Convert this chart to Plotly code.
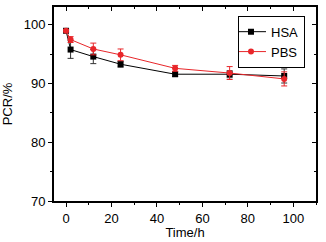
import plotly.graph_objects as go

time_h = [0, 2, 12, 24, 48, 72, 96]
hsa = [99.0, 95.8, 94.6, 93.3, 91.6, 91.6, 91.3]
hsa_err = [0.2, 1.5, 1.2, 0.5, 0.4, 0.6, 1.2]
pbs = [99.0, 97.5, 95.9, 94.9, 92.6, 91.8, 90.8]
pbs_err = [0.2, 0.5, 1.0, 1.0, 0.5, 1.1, 1.2]

x_ticks = [0, 20, 40, 60, 80, 100]
y_ticks = [70, 80, 90, 100]

font = dict(family="Liberation Sans, Arial", size=13, color="black")

fig = go.Figure()
fig.add_trace(go.Scatter(
    x=time_h, y=hsa, name="HSA", mode="lines+markers",
    line=dict(color="black", width=1),
    marker=dict(symbol="square", size=6, color="black"),
    error_y=dict(type="data", array=hsa_err, color="#333333", thickness=1, width=3),
))
fig.add_trace(go.Scatter(
    x=time_h, y=pbs, name="PBS", mode="lines+markers",
    line=dict(color="#e8262a", width=1),
    marker=dict(symbol="circle", size=6, color="#e8262a"),
    error_y=dict(type="data", array=pbs_err, color="#e8262a", thickness=1, width=3),
))
# invisible trace for mirrored axes with inward ticks
fig.add_trace(go.Scatter(x=[None], y=[None], xaxis="x2", yaxis="y2", showlegend=False, hoverinfo="skip"))

axis_common = dict(showgrid=False, zeroline=False, showline=True, linecolor="black", linewidth=1.8,
                   tickcolor="black", ticklen=4, tickwidth=1.2, automargin=False)

fig.update_layout(
    width=326, height=242,
    margin=dict(l=54, r=10, t=7, b=41),
    paper_bgcolor="white", plot_bgcolor="white",
    font=font,
    xaxis=dict(range=[-5.3, 110], tickvals=x_ticks, ticks="outside",
               minor=dict(dtick=10, tick0=0, ticks="outside", ticklen=2.5, tickcolor="black"),
               title=dict(text="Time/h", standoff=3, font=font), tickfont=font, **axis_common),
    yaxis=dict(range=[70, 103.05], tickvals=y_ticks, ticks="outside",
               minor=dict(dtick=5, tick0=70, ticks="outside", ticklen=2.5, tickcolor="black"),
               title=dict(text="PCR/%", standoff=8, font=font), tickfont=font, **axis_common),
    xaxis2=dict(range=[-5.3, 110], overlaying="x", side="top", anchor="y", tickvals=x_ticks,
                ticks="inside", showticklabels=False,
                minor=dict(dtick=10, tick0=0, ticks="inside", ticklen=2.5, tickcolor="black"),
                **axis_common),
    yaxis2=dict(range=[70, 103.05], overlaying="y", side="right", anchor="x", tickvals=y_ticks,
                ticks="inside", showticklabels=False,
                minor=dict(dtick=5, tick0=70, ticks="inside", ticklen=2.5, tickcolor="black"),
                **axis_common),
    legend=dict(x=0.958, y=0.955, xanchor="right", yanchor="top",
                bordercolor="black", borderwidth=1, bgcolor="white",
                font=dict(family="Liberation Sans, Arial", size=13, color="black"),
                tracegroupgap=0, itemwidth=30, indentation=-8),
    showlegend=True,
)
fig.write_html("out.html", config={"displayModeBar": False},
               post_script="document.body.style.margin='0';document.body.style.padding='0';")
